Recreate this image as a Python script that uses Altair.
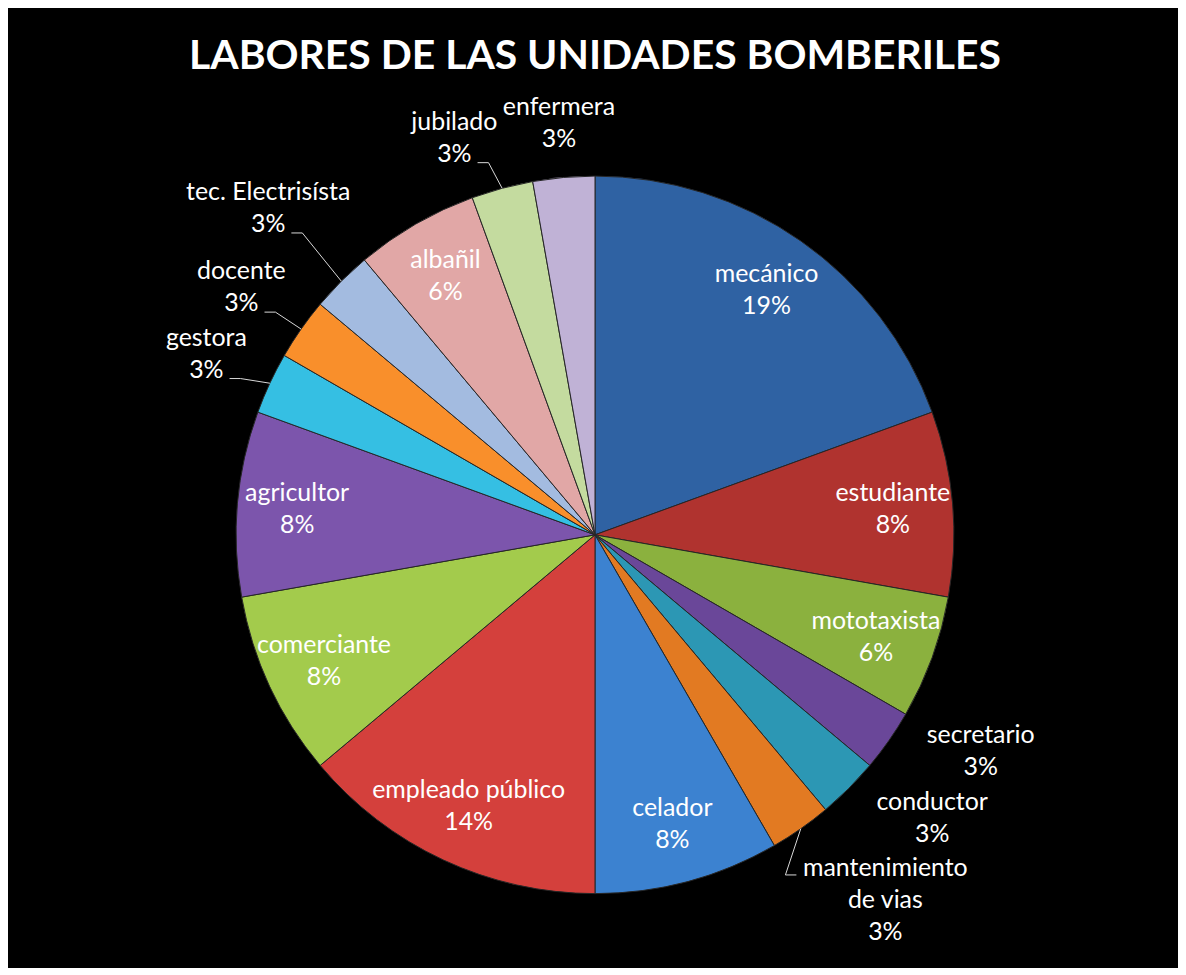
import math
import altair as alt

# ---------------- data ----------------
TITLE = "LABORES DE LAS UNIDADES BOMBERILES"
names = ["mecánico", "estudiante", "mototaxista", "secretario", "conductor",
         "mantenimiento\nde vias", "celador", "empleado público", "comerciante",
         "agricultor", "gestora", "docente", "tec. Electrisísta", "albañil",
         "jubilado", "enfermera"]
counts = [7, 3, 2, 1, 1, 1, 3, 5, 3, 3, 1, 1, 1, 2, 1, 1]
colors = ["#2F62A3", "#B0332F", "#8BB13E", "#6A4799", "#2C97B4", "#E27A22",
          "#3C82D0", "#D4403C", "#A3CB4C", "#7C55AC", "#35BFE3", "#F98F2B",
          "#A3BBE0", "#E1A7A6", "#C4DB9F", "#C0B2D6"]

# ---------------- layout settings ----------------
CHART_W, CHART_H = 1174, 960
PAD = {"left": 8, "right": 4, "top": 96, "bottom": 2}
W = CHART_W - PAD["left"] - PAD["right"]
H = CHART_H - PAD["top"] - PAD["bottom"]
CX, CY = W / 2, H / 2
R = 360          # pie radius
R_IN = 300       # radius of inside labels
D = 378          # distance of outside label boxes from centre
FONT = "Lato"
FS = 25
LH = 32
GAP = 2
BOTTOM_LIMIT = H - 16

total = sum(counts)
keys = [n.replace("\n", " ") for n in names]
pct = [f"{round(100 * c / total)}%" for c in counts]
lines = [n.split("\n") + [p] for n, p in zip(names, pct)]
is_inside = [c > 1 for c in counts]
mids = []
acc = 0
for c in counts:
    mids.append((acc + c / 2) / total * 360.0)
    acc += c


def tw(s):
    """rough text width estimate for label layout"""
    w = 0.0
    for ch in s:
        if ch in " .,ijlí":
            w += 0.26
        elif ch in "tfr":
            w += 0.36
        elif ch in "mw":
            w += 0.86
        elif ch == "%":
            w += 0.80
        elif ch.isdigit():
            w += 0.58
        elif ch.isupper():
            w += 0.62
        else:
            w += 0.54
    return w * FS


def place(theta, w, h):
    t = math.radians(theta)
    s, c = math.sin(t), math.cos(t)
    r = D + w / 2 * abs(s) + h / 2 * abs(c)
    return CX + r * s, CY - r * c


def overlaps(a, b):
    return (abs(a[0] - b[0]) < (a[2] + b[2]) / 2 + GAP and
            abs(a[1] - b[1]) < (a[3] + b[3]) / 2 + GAP)


outside_idx = [i for i in range(len(counts)) if not is_inside[i]]
placed = []
out_rows = []
leader_rows = []
for i in sorted(outside_idx, key=lambda k: -mids[k]):
    w = max(tw(l) for l in lines[i])
    h = len(lines[i]) * LH
    th = mids[i]
    x, y = place(th, w, h)
    while y + h / 2 > BOTTOM_LIMIT:
        th += -0.25 if th < 180 else 0.25
        x, y = place(th, w, h)
    while any(overlaps((x, y, w, h), p) for p in placed):
        th -= 0.25
        x, y = place(th, w, h)
    placed.append((x, y, w, h))
    # Vega puts the first line of a multi-line text at y
    first_y = y - (len(lines[i]) - 1) * LH / 2
    out_rows.append({"key": keys[i], "x": x, "y": first_y, "lines": lines[i]})

    # leader line
    tm = math.radians(mids[i])
    sx, sy = CX + R * math.sin(tm), CY - R * math.cos(tm)
    s = math.sin(math.radians(th))
    if abs(s) < 0.2:
        ex, ey = x, y + h / 2 + 2
        bx, by = ex, ey
    elif s > 0:
        l1y = y - h / 2 + LH / 2
        ex, ey = x - tw(lines[i][0]) / 2 - 5, l1y + 7
        bx, by = ex - 11, ey
    else:
        lly = y + h / 2 - LH / 2
        ex, ey = x + tw(lines[i][-1]) / 2 + 6, lly + 9
        bx, by = ex + 11, ey
    if math.hypot(bx - sx, by - sy) > 25:
        for seq, (px, py) in enumerate([(sx, sy), (bx, by), (ex, ey)]):
            leader_rows.append({"key": keys[i], "seq": seq, "x": px, "y": py})

slice_rows = [{"key": k, "count": c, "idx": j,
               "in_text": (l if ins else "")}
              for j, (k, c, l, ins) in enumerate(zip(keys, counts, lines, is_inside))]

# ---------------- chart ----------------
slice_data = alt.Data(values=slice_rows)

arcs = alt.Chart(slice_data).mark_arc(
    outerRadius=R, stroke="#262626", strokeWidth=1
).encode(
    theta=alt.Theta("count:Q", stack=True),
    color=alt.Color("key:N", scale=alt.Scale(domain=keys, range=colors), legend=None),
    order=alt.Order("idx:Q"),
)

inner = alt.Chart(slice_data).mark_text(
    radius=R_IN, font=FONT, fontSize=FS, lineHeight=LH, color="white",
    align="center", baseline="middle", dy=-LH / 2
).encode(
    theta=alt.Theta("count:Q", stack=True),
    order=alt.Order("idx:Q"),
    text=alt.Text("in_text:N"),
)

leaders = alt.Chart(alt.Data(values=leader_rows)).mark_line(
    color="#D9D9D9", strokeWidth=1
).encode(
    x=alt.X("x:Q", scale=None, axis=None),
    y=alt.Y("y:Q", scale=None, axis=None),
    detail="key:N",
    order="seq:Q",
)

outer = alt.Chart(alt.Data(values=out_rows)).mark_text(
    font=FONT, fontSize=FS, lineHeight=LH, color="white",
    align="center", baseline="middle"
).encode(
    x=alt.X("x:Q", scale=None, axis=None),
    y=alt.Y("y:Q", scale=None, axis=None),
    text=alt.Text("lines:N"),
)

chart = alt.layer(arcs, leaders, inner, outer).properties(
    width=W, height=H,
    title=alt.TitleParams(
        text=TITLE, font=FONT, fontSize=41, fontWeight="bold", color="white",
        anchor="middle", frame="group", baseline="alphabetic", offset=-15,
    ),
    autosize=alt.AutoSizeParams(type="none"),
    padding=PAD,
).configure(background="black").configure_view(stroke=None)

chart.save("out.html", embed_options={"renderer": "svg", "actions": False})
